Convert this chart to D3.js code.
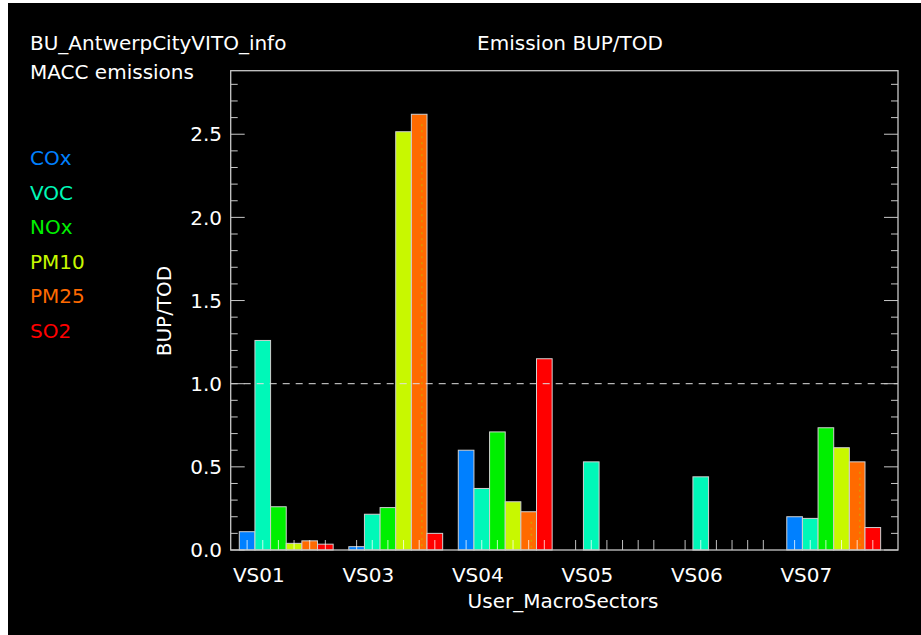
<!DOCTYPE html>
<html>
<head>
<meta charset="utf-8">
<script src="https://cdn.jsdelivr.net/npm/d3@7"></script>
<style>
  html, body { margin: 0; padding: 0; background: #fff; }
  svg { display: block; }
  text { font-family: 'DejaVu Sans', sans-serif; }
</style>
</head>
<body>
<div id="chart"></div>
<script>
// data
const sectors = ['VS01', 'VS03', 'VS04', 'VS05', 'VS06', 'VS07'];
const species = ['COx', 'VOC', 'NOx', 'PM10', 'PM25', 'SO2'];
const speciesColors = ['#0080ff', '#00f8b8', '#00f000', '#c8f800', '#ff6a00', '#ff0000'];
const valCOx  = [0.11, 0.02, 0.60, 0, 0, 0.20];
const valVOC  = [1.26, 0.215, 0.37, 0.53, 0.44, 0.19];
const valNOx  = [0.26, 0.255, 0.71, 0, 0, 0.735];
const valPM10 = [0.04, 2.515, 0.29, 0, 0, 0.615];
const valPM25 = [0.055, 2.62, 0.23, 0, 0, 0.53];
const valSO2  = [0.035, 0.10, 1.15, 0, 0, 0.135];
const yMajor = [0, 0.5, 1.0, 1.5, 2.0, 2.5];
const yMinor = d3.range(0, 29).map(d => d / 10);

const series = [valCOx, valVOC, valNOx, valPM10, valPM25, valSO2];

const W = 921, H = 635;
const svg = d3.select('#chart').append('svg')
  .attr('width', W).attr('height', H);

// black page with white strip on left/top
svg.append('rect').attr('x', 8).attr('y', 3).attr('width', W - 8).attr('height', H - 3).attr('fill', '#000');

const pLeft = 230.7, pRight = 898, pTop = 70.7, pBottom = 550;

const x = d3.scaleLinear().domain([-0.05, 42.61]).range([pLeft, pRight]);
const y = d3.scaleLinear().domain([0, 2.62 * 1.1]).range([pBottom, pTop]);
const bw = x(1) - x(0);

// build bar list
const bars = [];
sectors.forEach((s, i) => {
  species.forEach((sp, j) => {
    bars.push({ sector: s, sp: sp, j: j, slot: 7 * i + j + 1, v: series[j][i] });
  });
});

const axisColor = '#c8c8c8';

// bars
svg.append('g').selectAll('rect').data(bars).enter().append('rect')
  .attr('x', d => x(d.slot - 0.5))
  .attr('y', d => y(d.v))
  .attr('width', bw)
  .attr('height', d => pBottom - y(d.v))
  .attr('fill', d => speciesColors[d.j])
  .attr('stroke', '#d0d0d0')
  .attr('stroke-width', 1);

// dotted line inside PM25 bars
svg.append('g').selectAll('line').data(bars.filter(d => d.sp === 'PM25' && d.v > 0.1)).enter().append('line')
  .attr('x1', d => x(d.slot + 0.17)).attr('x2', d => x(d.slot + 0.17))
  .attr('y1', d => y(d.v) + 10).attr('y2', pBottom)
  .attr('stroke', '#d89a00').attr('stroke-width', 1.5)
  .attr('stroke-dasharray', '2,4');

// small ticks at bar centres
svg.append('g').selectAll('line').data(bars).enter().append('line')
  .attr('x1', d => x(d.slot)).attr('x2', d => x(d.slot))
  .attr('y1', pBottom).attr('y2', pBottom - 10)
  .attr('stroke', '#ffffff').attr('stroke-opacity', 0.75).attr('stroke-width', 1);

// reference line at 1.0
svg.append('line')
  .attr('x1', pLeft).attr('x2', pRight)
  .attr('y1', y(1)).attr('y2', y(1))
  .attr('stroke', '#e0e0e0').attr('stroke-width', 1)
  .attr('stroke-dasharray', '7,6');

// frame
svg.append('rect')
  .attr('x', pLeft).attr('y', pTop).attr('width', pRight - pLeft).attr('height', pBottom - pTop)
  .attr('fill', 'none').attr('stroke', axisColor).attr('stroke-width', 1.3);

// y ticks, left and right, pointing inward
const isMajor = v => Math.abs(v * 2 - Math.round(v * 2)) < 1e-6;
const tg = svg.append('g').attr('stroke', axisColor).attr('stroke-width', 1);
yMinor.forEach(v => {
  const len = isMajor(v) ? 14 : 7;
  tg.append('line').attr('x1', pLeft).attr('x2', pLeft + len).attr('y1', y(v)).attr('y2', y(v));
  tg.append('line').attr('x1', pRight).attr('x2', pRight - len).attr('y1', y(v)).attr('y2', y(v));
});

// y tick labels
svg.append('g').selectAll('text').data(yMajor).enter().append('text')
  .attr('x', 222).attr('y', d => y(d)).attr('dy', '0.36em')
  .attr('text-anchor', 'end').attr('fill', '#fff').attr('font-size', 20)
  .text(d => d.toFixed(1));

// x labels
svg.append('g').selectAll('text').data(sectors).enter().append('text')
  .attr('x', (d, i) => x(7 * i + 1.75)).attr('y', 582)
  .attr('text-anchor', 'middle').attr('fill', '#fff').attr('font-size', 20)
  .text(d => d);

svg.append('text').attr('x', 563).attr('y', 608)
  .attr('text-anchor', 'middle').attr('fill', '#fff').attr('font-size', 20)
  .text('User_MacroSectors');

svg.append('text')
  .attr('transform', 'translate(171,311) rotate(-90)')
  .attr('text-anchor', 'middle').attr('fill', '#fff').attr('font-size', 20)
  .text('BUP/TOD');

// titles
svg.append('text').attr('x', 30).attr('y', 50).attr('fill', '#fff').attr('font-size', 20)
  .text('BU_AntwerpCityVITO_info');
svg.append('text').attr('x', 30).attr('y', 79).attr('fill', '#fff').attr('font-size', 20)
  .text('MACC emissions');
svg.append('text').attr('x', 570).attr('y', 50).attr('text-anchor', 'middle').attr('fill', '#fff').attr('font-size', 20)
  .text('Emission BUP/TOD');

// legend
svg.append('g').selectAll('text').data(species).enter().append('text')
  .attr('x', 30).attr('y', (d, i) => 165 + i * 34.5)
  .attr('fill', (d, i) => speciesColors[i]).attr('font-size', 20)
  .text(d => d);
</script>
</body>
</html>
